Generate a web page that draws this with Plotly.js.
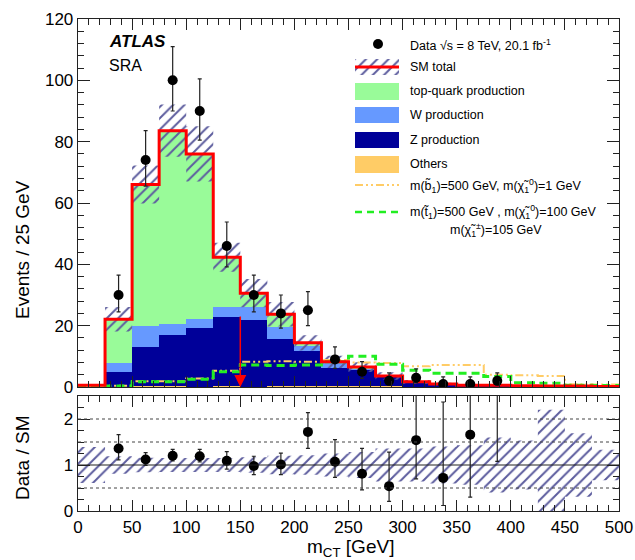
<!DOCTYPE html>
<html><head><meta charset="utf-8">
<script src="https://cdn.plot.ly/plotly-3.0.1.min.js"></script>
<style>body{margin:0;background:#fff}#chart{width:635px;height:560px}</style>
</head><body><div id="chart"></div>
<script>
// ---- data ----
const binEdges   = [0,25,50,75,100,125,150,175,200,225,250,275,300,325,350,375,400,425,450,475,500];
const binCenters = [12.5,37.5,62.5,87.5,112.5,137.5,162.5,187.5,212.5,237.5,262.5,287.5,312.5,337.5,362.5,387.5,412.5,437.5,462.5,487.5];
const othersBkg = [0,0.1,0.4,0.4,0.1,0.4,0.1,0.4,0.4,0.4,0.4,0.4,0.1,0.05,0,0,0,0,0,0];
const zBkg      = [0,4.9,12.5,16.5,19.3,22.5,21.7,15.1,11.4,5.7,5.1,3.0,1.2,0.55,0.3,0.3,0.2,0.15,0.15,0.1];
const wBkg      = [0,2.9,6.9,3.8,2.9,3.2,4.3,4.1,1.7,1.6,0.5,0.1,0.2,0.2,0.1,0.1,0.1,0.05,0.05,0];
const topBkg    = [0.6,14.2,46.2,62.9,53.7,16.2,4.5,4.1,0.9,0.5,0.5,0.1,0.2,0.2,0.2,0.2,0.1,0.1,0.1,0.1];
const smTotal   = [0.6,22.1,66,83.6,76,42.3,30.6,23.7,14.4,8.2,6.5,3.6,1.7,1.0,0.6,0.6,0.4,0.3,0.3,0.2];
const smErr     = [0.25,4.0,6.2,8.5,9.0,4.7,4.6,4.0,2.5,2.0,1.6,1.2,0.6,0.4,0.25,0.35,0.2,0.35,0.2,0.07];
const sbottomSig = [0.1,0.4,1.9,1.9,2.8,5.3,8.2,8.4,8.2,8.8,8.0,7.8,6.8,7.2,7.2,4.0,3.8,3.6,0.9,0.8];
const stopSig    = [0.1,0.3,1.7,1.7,2.5,5.0,7.2,7.0,7.2,8.2,10.0,7.4,5.5,4.5,4.5,3.4,1.4,1.2,0.6,0.5];

const dataX       = [37.5,62.5,87.5,112.5,137.5,162.5,187.5,212.5,237.5,262.5,287.5,312.5,337.5,362.5,387.5];
const dataY       = [30,74,100,90,46,30,24,25,9,5,2,3,1,1,2];
const dataErrUp   = [6.5,9.6,11,10.5,7.8,6.5,6,6.1,4.1,3.3,2.6,2.9,2.3,2.3,2.6];
const dataErrDown = [5.5,8.5,10,9.5,6.8,5.5,4.8,5,2.9,2.2,1.3,1.6,0.8,0.8,1.3];

const ratioY       = [1.36,1.12,1.20,1.19,1.09,0.98,1.01,1.72,1.07,0.81,0.54,1.54,0.72,1.66,3.2];
const ratioErrUp   = [0.30,0.15,0.14,0.15,0.20,0.21,0.25,0.42,0.48,0.55,0.74,1.5,1.65,1.5,2.5];
const ratioErrDown = [0.25,0.13,0.11,0.12,0.18,0.19,0.22,0.36,0.34,0.35,0.33,0.84,0.60,1.36,2.12];
const ratioBandErr = [0.39,0.19,0.16,0.15,0.15,0.15,0.17,0.20,0.21,0.25,0.28,0.36,0.36,0.40,0.43,0.60,0.53,1.2,0.69,0.33];

// ---- colours ----
const cTop='#99fb99', cW='#6699ff', cZ='#000099', cOth='#ffcc66', cRed='#ff0000',
      cHatch='#5d5d9e', cSb='#ffcc66', cSt='#22ee22';

function bandPoly(edges, centre, err){
  const xs=[], ys=[];
  for(let i=0;i<centre.length;i++){
    const a=edges[i], b=edges[i+1], lo=centre[i]-err[i], hi=centre[i]+err[i];
    xs.push(a,b,b,a,a,null); ys.push(lo,lo,hi,hi,lo,null);
  }
  return {xs, ys};
}
function stepY(v){ return v.concat([v[v.length-1]]); }

const hatch = {shape:'/', fgcolor:cHatch, bgcolor:'rgba(0,0,0,0)', size:8, solidity:0.25};

const mainBand = bandPoly(binEdges, smTotal, smErr);
const ones = binCenters.map(()=>1);
const ratioBand = bandPoly(binEdges, ones, ratioBandErr);

const barCommon = {type:'bar', x:binCenters, width:25, xaxis:'x', yaxis:'y', hoverinfo:'skip'};
const traces = [
  Object.assign({}, barCommon, {y:othersBkg, marker:{color:cOth, line:{width:0}}}),
  Object.assign({}, barCommon, {y:zBkg, marker:{color:cZ, line:{width:0}}}),
  Object.assign({}, barCommon, {y:wBkg, marker:{color:cW, line:{width:0}}}),
  Object.assign({}, barCommon, {y:topBkg, marker:{color:cTop, line:{width:0}}}),
  {type:'scatter', mode:'lines', x:mainBand.xs, y:mainBand.ys, fill:'toself', fillcolor:'rgba(0,0,0,0)',
   fillpattern:hatch, line:{width:0}, connectgaps:false, xaxis:'x', yaxis:'y'},
  {type:'scatter', mode:'lines', x:binEdges, y:stepY(sbottomSig), line:{shape:'hv', color:cSb, width:2, dash:'8px,3px,2px,3px,2px,3px'}, xaxis:'x', yaxis:'y'},
  {type:'scatter', mode:'lines', x:binEdges, y:stepY(stopSig), line:{shape:'hv', color:cSt, width:3, dash:'8px,5px'}, xaxis:'x', yaxis:'y'},
  {type:'scatter', mode:'lines', x:binEdges, y:stepY(smTotal), line:{shape:'hv', color:cRed, width:3}, xaxis:'x', yaxis:'y'},
  {type:'scatter', mode:'markers', x:dataX, y:dataY, marker:{color:'#000', size:10},
   error_y:{type:'data', symmetric:false, array:dataErrUp, arrayminus:dataErrDown, color:'#222', thickness:1.2, width:2},
   xaxis:'x', yaxis:'y'},
  // ratio panel
  {type:'scatter', mode:'lines', x:ratioBand.xs, y:ratioBand.ys, fill:'toself', fillcolor:'rgba(0,0,0,0)',
   fillpattern:hatch, line:{width:0}, connectgaps:false, xaxis:'x2', yaxis:'y2'},
  {type:'scatter', mode:'markers', x:dataX, y:ratioY, marker:{color:'#000', size:10}, cliponaxis:true,
   error_y:{type:'data', symmetric:false, array:ratioErrUp, arrayminus:ratioErrDown, color:'#222', thickness:1.2, width:2},
   xaxis:'x2', yaxis:'y2'}
];

// ---- legend (pixel-coordinate overlay axes x3/y3) ----
const legX0=355, legX1=399, legTX=408;
traces.push(
  {type:'scatter', mode:'markers', x:[378], y:[44], marker:{color:'#000', size:10}, xaxis:'x3', yaxis:'y3'},
  {type:'scatter', mode:'lines', x:[legX0,legX1,legX1,legX0,legX0], y:[59,59,75,75,59], fill:'toself', fillcolor:'rgba(0,0,0,0)',
   fillpattern:hatch, line:{width:0}, xaxis:'x3', yaxis:'y3'},
  {type:'scatter', mode:'lines', x:[legX0,legX1], y:[67,67], line:{color:cRed, width:3}, xaxis:'x3', yaxis:'y3'},
  {type:'scatter', mode:'lines', x:[legX0,legX1], y:[185,185], line:{color:cSb, width:2, dash:'8px,3px,2px,3px,2px,3px'}, xaxis:'x3', yaxis:'y3'},
  {type:'scatter', mode:'lines', x:[legX0,legX1], y:[212,212], line:{color:cSt, width:2.5, dash:'7px,5px'}, xaxis:'x3', yaxis:'y3'}
);

const font = 'Liberation Sans, Arial, Helvetica, sans-serif';
const legFont = {family:font, size:12.5, color:'#000'};
function legRect(y0,y1,c){ return {type:'rect', xref:'x3', yref:'y3', x0:legX0, x1:legX1, y0:y0, y1:y1, fillcolor:c, line:{width:0}}; }
function legText(x,y,t){ return {xref:'x3', yref:'y3', x:x, y:y, text:t, showarrow:false, xanchor:'left', yanchor:'middle', font:legFont}; }

const shapes = [
  legRect(83,100,cTop), legRect(107,123,cW), legRect(132,148,cZ), legRect(156,173,cOth),
  {type:'line', xref:'paper', yref:'y2', x0:0, x1:1, y0:0.5, y1:0.5, line:{color:'#444', width:1, dash:'dot'}},
  {type:'line', xref:'paper', yref:'y2', x0:0, x1:1, y0:1.5, y1:1.5, line:{color:'#444', width:1, dash:'dot'}},
  {type:'line', xref:'paper', yref:'y2', x0:0, x1:1, y0:2, y1:2, line:{color:'#444', width:1, dash:'dot'}},
  {type:'line', xref:'paper', yref:'y2', x0:0, x1:1, y0:1, y1:1, line:{color:'#222', width:1.2}}
];

// pixel -> paper helpers (plot area 78..619 x, 19..511 y)
const PL=78, PR=619, PT=19, PB=511;
const px = x => (x-PL)/(PR-PL);
const py = y => (PB-y)/(PB-PT);

const annotations = [
  legText(legTX,45,'Data √s = 8 TeV, 20.1 fb<sup>-1</sup>'),
  legText(legTX,67,'SM total'),
  legText(legTX,91,'top-quark production'),
  legText(legTX,115,'W production'),
  legText(legTX,140,'Z production'),
  legText(legTX,164,'Others'),
  legText(legTX,186,'m(b̃<sub>1</sub>)=500 GeV, m(χ̃<sub>1</sub><sup>0</sup>)=1 GeV'),
  legText(legTX,212,'m(t̃<sub>1</sub>)=500 GeV , m(χ̃<sub>1</sub><sup>0</sup>)=100 GeV'),
  legText(448,230,'m(χ̃<sub>1</sub><sup>±</sup>)=105 GeV'),
  {xref:'x3', yref:'y3', x:107, y:41, text:'<b><i>ATLAS</i></b>', showarrow:false, xanchor:'left', yanchor:'middle', font:{family:font, size:17, color:'#000'}},
  {xref:'x3', yref:'y3', x:107, y:65, text:'SRA', showarrow:false, xanchor:'left', yanchor:'middle', font:{family:font, size:16, color:'#000'}},
  {xref:'x', yref:'y', x:150, y:0, ax:150, ay:23.5, axref:'x', ayref:'y', text:'', showarrow:true,
   arrowhead:2, arrowsize:1.6, arrowwidth:1.5, arrowcolor:cRed},
  {xref:'paper', yref:'paper', x:px(22), y:py(250), text:'Events / 25 GeV', textangle:-90, showarrow:false,
   xanchor:'center', yanchor:'middle', font:{family:font, size:19, color:'#000'}},
  {xref:'paper', yref:'paper', x:px(22), y:py(458), text:'Data / SM', textangle:-90, showarrow:false,
   xanchor:'center', yanchor:'middle', font:{family:font, size:19, color:'#000'}},
  {xref:'paper', yref:'paper', x:px(350), y:py(548), text:'m<sub>CT</sub> [GeV]', showarrow:false,
   xanchor:'center', yanchor:'middle', font:{family:font, size:19, color:'#000'}}
];

const axLine = {showline:true, linecolor:'#222', linewidth:1.3, mirror:'allticks', showgrid:false, zeroline:false,
                ticks:'inside', tickcolor:'#222', tickwidth:1, tickfont:{family:font, size:17, color:'#000'}};

const layout = {
  width:635, height:560,
  margin:{l:PL, r:635-PR, t:PT, b:560-PB, pad:0},
  paper_bgcolor:'#fff', plot_bgcolor:'rgba(0,0,0,0)',
  showlegend:false, barmode:'stack', bargap:0,
  font:{family:font, color:'#000'},
  xaxis: Object.assign({}, axLine, {domain:[0,1], range:[0,500], anchor:'y', showticklabels:false,
          tick0:0, dtick:50, ticklen:11, minor:{dtick:10, ticklen:6, ticks:'inside', tickcolor:'#222'}}),
  yaxis: Object.assign({}, axLine, {domain:[py(387),1], range:[0,120], anchor:'x', tick0:0, dtick:20, ticklen:12,
          minor:{dtick:4, ticklen:6, ticks:'inside', tickcolor:'#222'}}),
  xaxis2: Object.assign({}, axLine, {domain:[0,1], range:[0,500], anchor:'y2', tick0:0, dtick:50, ticklen:11,
          minor:{dtick:10, ticklen:6, ticks:'inside', tickcolor:'#222'}}),
  yaxis2: Object.assign({}, axLine, {domain:[0,py(396)], range:[0,2.5], anchor:'x2', tickvals:[0,1,2], ticklen:12,
          minor:{dtick:0.25, ticklen:6, ticks:'inside', tickcolor:'#222'}}),
  xaxis3: {overlaying:'x', range:[PL,PR], visible:false, anchor:'y3'},
  yaxis3: {overlaying:'y', range:[387,PT], visible:false, anchor:'x3'},
  shapes: shapes,
  annotations: annotations
};

Plotly.newPlot('chart', traces, layout, {staticPlot:true, displayModeBar:false});
</script>
</body></html>
